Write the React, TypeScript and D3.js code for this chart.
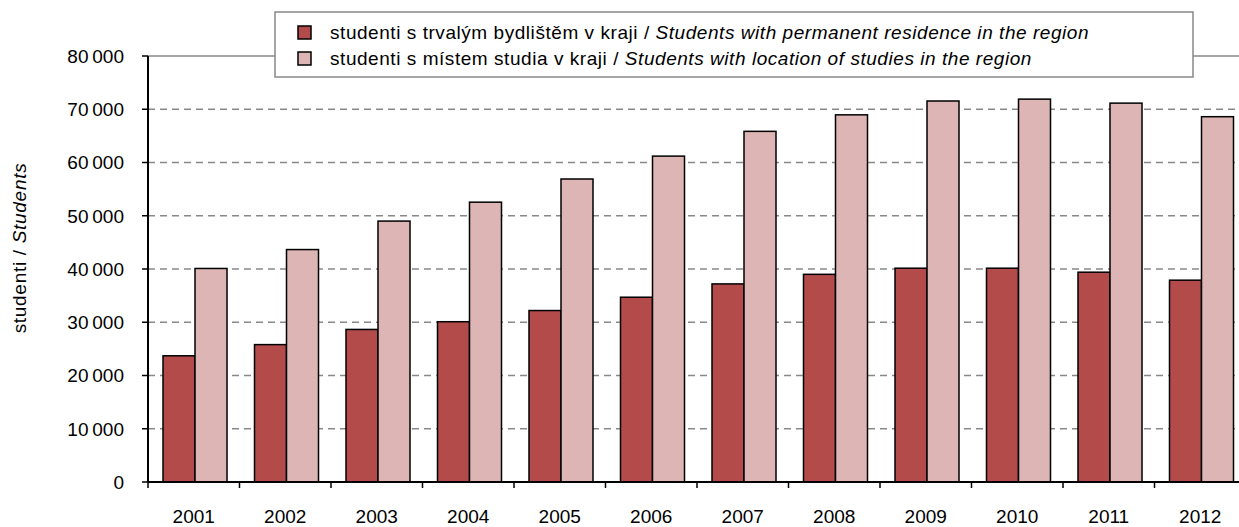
import React from "react";
import * as d3 from "d3";

const years = ["2001","2002","2003","2004","2005","2006","2007","2008","2009","2010","2011","2012"];
const residence = [23700, 25800, 28650, 30100, 32200, 34700, 37200, 39000, 40150, 40150, 39400, 37900];
const studies = [40100, 43650, 49000, 52550, 56900, 61200, 65850, 68950, 71550, 71900, 71150, 68600];
const yTicks = [0, 10000, 20000, 30000, 40000, 50000, 60000, 70000, 80000];
const seriesNames = [
  { cz: "studenti s trvalým bydlištěm v kraji / ", en: "Students with permanent residence in the region" },
  { cz: "studenti s místem studia v kraji / ", en: "Students with location of studies in the region" },
];
const colors = ["#B34B4A", "#DEB5B5"];

export default function App() {
  const W = 1239, H = 527;
  const left = 148, bottom = 482, top = 56;
  const x0 = d3.scaleBand<string>().domain(years).range([left, left + 12 * 91.5]).padding(0);
  const bw = x0.bandwidth();
  const x1 = d3.scaleBand<string>().domain(["a", "b"]).range([15, 15 + 64]).padding(0);
  const y = d3.scaleLinear().domain([0, 80000]).range([bottom, top]);
  const fmt = (v: number) => d3.format(",")(v).replace(/,/g, "\u2009");
  const font = "'Liberation Sans', Arial, sans-serif";
  const data = [residence, studies];
  const fs = 19;

  return (
    <svg width={W} height={H} style={{ position: "absolute", left: 0, top: 0, fontFamily: font }}>
      <rect x={0} y={0} width={W} height={H} fill="#fff" />
      {/* gridlines */}
      {yTicks.filter((t) => t > 0).map((t) => (
        <line key={t} x1={left} x2={W} y1={y(t)} y2={y(t)} stroke="#888" strokeWidth={1.5}
          strokeDasharray={t === 80000 ? undefined : "7,5"} />
      ))}
      {/* bars */}
      {years.map((yr, i) => (
        <g key={yr} transform={`translate(${x0(yr)},0)`}>
          {data.map((s, k) => (
            <rect key={k} x={x1(k === 0 ? "a" : "b")} y={y(s[i])} width={x1.bandwidth()}
              height={bottom - y(s[i])} fill={colors[k]} stroke="#000" strokeWidth={1.5} />
          ))}
        </g>
      ))}
      {/* axes */}
      <line x1={left} x2={left} y1={top} y2={bottom} stroke="#000" strokeWidth={2} />
      <line x1={left} x2={W} y1={bottom} y2={bottom} stroke="#000" strokeWidth={2} />
      {yTicks.map((t) => (
        <g key={t}>
          <line x1={left - 6} x2={left} y1={y(t)} y2={y(t)} stroke="#000" strokeWidth={1.5} />
          <text x={124} y={y(t)} dy="0.36em" textAnchor="end" fontSize={fs} fill="#000">{fmt(t)}</text>
        </g>
      ))}
      {years.map((yr) => (
        <g key={yr}>
          <line x1={x0(yr)!} x2={x0(yr)!} y1={bottom} y2={bottom + 6} stroke="#000" strokeWidth={1.5} />
          <text x={x0(yr)! + bw / 2} y={523} textAnchor="middle" fontSize={fs} fill="#000">{yr}</text>
        </g>
      ))}
      <text transform={`translate(26,248) rotate(-90)`} textAnchor="middle" fontSize={fs} letterSpacing={0.7} fill="#000">
        studenti / <tspan fontStyle="italic">Students</tspan>
      </text>
      {/* legend */}
      <rect x={275} y={12} width={918} height={65} fill="#fff" stroke="#888" strokeWidth={1.5} />
      {seriesNames.map((s, k) => (
        <g key={k} transform={`translate(0,${k === 0 ? 32 : 58})`}>
          <rect x={298} y={-6} width={13} height={13} fill={colors[k]} stroke="#000" strokeWidth={1.5} />
          <text x={330} y={0} dy="0.36em" fontSize={fs} letterSpacing={0.55} fill="#000">
            {s.cz}<tspan fontStyle="italic">{s.en}</tspan>
          </text>
        </g>
      ))}
    </svg>
  );
}
